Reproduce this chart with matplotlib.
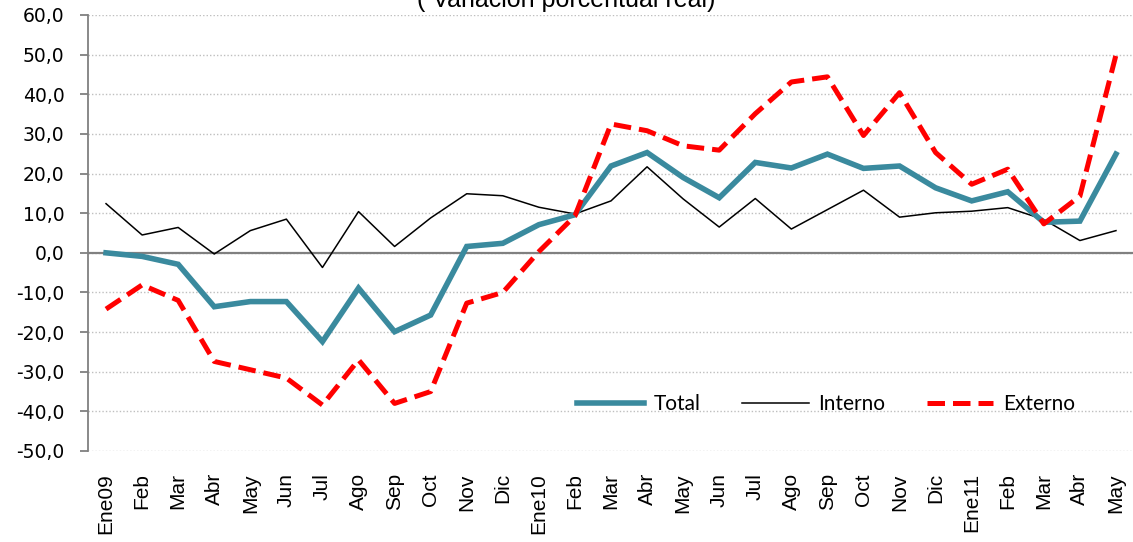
import matplotlib
matplotlib.use("Agg")
import matplotlib.pyplot as plt
import matplotlib.ticker as mticker

MONTHS = ["Ene09", "Feb", "Mar", "Abr", "May", "Jun", "Jul", "Ago", "Sep", "Oct", "Nov", "Dic",
          "Ene10", "Feb", "Mar", "Abr", "May", "Jun", "Jul", "Ago", "Sep", "Oct", "Nov", "Dic",
          "Ene11", "Feb", "Mar", "Abr", "May"]

TOTAL = [0.0, -0.9, -2.9, -13.6, -12.3, -12.3, -22.4, -8.9, -19.9, -15.7, 1.6, 2.4,
         7.1, 9.6, 21.9, 25.3, 19.0, 13.9, 22.8, 21.4, 24.9, 21.3, 21.9, 16.4,
         13.1, 15.4, 7.7, 8.0, 24.9]
INTERNO = [12.4, 4.5, 6.4, -0.3, 5.6, 8.5, -3.7, 10.4, 1.6, 8.8, 14.9, 14.4,
           11.5, 9.8, 13.1, 21.7, 13.6, 6.5, 13.7, 6.0, 10.9, 15.8, 9.0, 10.1,
           10.5, 11.4, 8.4, 3.1, 5.6]
EXTERNO = [-14.2, -8.1, -12.0, -27.4, -29.5, -31.6, -38.4, -27.0, -38.0, -35.0, -12.7, -10.0,
           0.3, 9.3, 32.5, 30.8, 27.0, 25.9, 35.1, 43.1, 44.4, 29.6, 40.4, 25.3,
           17.3, 21.1, 7.3, 14.3, 49.9]

W, H = 1133, 542
fig = plt.figure(figsize=(W / 100, H / 100), dpi=100)
ax = fig.add_axes([88 / W, 1 - 451 / H, (1134 - 88) / W, (451 - 15) / H])

x = list(range(len(MONTHS)))
ax.plot(x, TOTAL, color="#3A8A9E", linewidth=4.0, label="Total", zorder=4,
        solid_joinstyle="miter")
ax.plot(x, INTERNO, color="black", linewidth=1.1, label="Interno", zorder=3)
ax.plot(x, EXTERNO, color="#FF0000", linewidth=3.6, dashes=(3.5, 1.6), label="Externo",
        zorder=5)

ax.set_xlim(-0.5, len(MONTHS) - 0.5)
ax.set_ylim(-50, 60)
ax.set_yticks(range(-50, 61, 10))
ax.yaxis.set_major_formatter(mticker.FuncFormatter(lambda v, _: f"{v:.1f}".replace(".", ",")))
ax.grid(True, axis="y", linestyle=(0, (1, 1.5)), color="#BFBFBF", linewidth=1.0)
ax.set_axisbelow(True)
ax.axhline(0, color="#808080", linewidth=1.6, zorder=2)

for s in ["top", "right", "bottom"]:
    ax.spines[s].set_visible(False)
ax.spines["left"].set_color("#808080")
ax.spines["left"].set_linewidth(1.3)

ax.tick_params(axis="y", direction="out", length=6, width=1.3, color="#808080",
               pad=11, labelsize=13.5)
for lab in ax.get_yticklabels():
    lab.set_fontfamily("DejaVu Sans")

ax.set_xticks(x)
ax.set_xticklabels(MONTHS, rotation=90, fontfamily="Liberation Sans", fontsize=15)
ax.tick_params(axis="x", length=0, pad=16)

fig.text(566 / W, 1 - 7 / H, "( Variación porcentual real)", ha="center", va="baseline",
         fontsize=18, fontfamily="Liberation Sans")

ax.legend(loc="center", bbox_to_anchor=(826 / W, 1 - 404 / H),
          bbox_transform=fig.transFigure, ncol=3, frameon=False,
          prop={"family": "Lato", "size": 15}, handlelength=3.2,
          handletextpad=0.45, columnspacing=2.0)

fig.savefig("out.png", dpi=100)
